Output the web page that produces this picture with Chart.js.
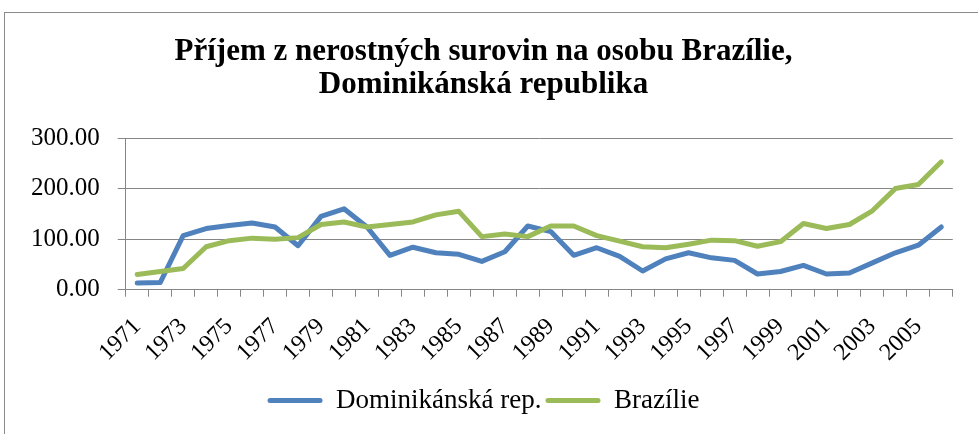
<!DOCTYPE html>
<html>
<head>
<meta charset="utf-8">
<script src="https://cdn.jsdelivr.net/npm/chart.js@4.4.1/dist/chart.umd.min.js"></script>
<style>
  html, body { margin: 0; padding: 0; background: #fff; }
  #wrap { position: relative; width: 978px; height: 434px; overflow: hidden; }
  #frame { position: absolute; left: 4px; top: 12px; width: 1000px; height: 500px; border: 1px solid #8a8a8a; }
  #chart { position: absolute; left: 0; top: 0; }
</style>
</head>
<body>
<div id="wrap">
  <div id="frame"></div>
  <canvas id="chart" width="978" height="434"></canvas>
</div>
<script>
const years = ['1971', '1972', '1973', '1974', '1975', '1976', '1977', '1978', '1979', '1980',
  '1981', '1982', '1983', '1984', '1985', '1986', '1987', '1988', '1989', '1990',
  '1991', '1992', '1993', '1994', '1995', '1996', '1997', '1998', '1999', '2000',
  '2001', '2002', '2003', '2004', '2005', '2006'];

const dominikanskaRep = [13, 14, 107, 121, 127, 132, 124, 87, 145, 160,
  124, 68, 84, 73, 70, 56, 75, 126, 115, 68,
  83, 66, 37, 61, 73, 63, 58, 31, 36, 48,
  31, 33, 53, 73, 88, 124];

const brazilie = [30, 36, 42, 85, 97, 102, 100, 103, 129, 134,
  124, 129, 134, 148, 155, 105, 110, 105, 126, 126,
  107, 96, 85, 83, 90, 98, 97, 86, 95, 131,
  121, 129, 156, 200, 208, 253];

const yTicks = [0, 100, 200, 300];

const serif = '"Liberation Serif", "Times New Roman", serif';
const gridGray = '#868686';

new Chart(document.getElementById('chart'), {
  type: 'line',
  data: {
    labels: years,
    datasets: [
      {
        label: 'Dominikánská rep.',
        data: dominikanskaRep,
        borderColor: '#4F81BD',
        backgroundColor: '#4F81BD',
        order: 1
      },
      {
        label: 'Brazílie',
        data: brazilie,
        borderColor: '#9BBB59',
        backgroundColor: '#9BBB59',
        order: 0
      }
    ]
  },
  options: {
    responsive: false,
    animation: false,
    layout: { padding: { left: 13, right: 24, top: 0, bottom: 10 } },
    elements: {
      line: { borderWidth: 5, tension: 0, borderCapStyle: 'round', borderJoinStyle: 'round' },
      point: { radius: 0 }
    },
    scales: {
      x: {
        offset: true,
        grid: { offset: true, drawOnChartArea: false, drawTicks: true, tickLength: 7, color: gridGray },
        border: { color: gridGray, width: 1 },
        ticks: {
          autoSkip: false,
          maxRotation: 45,
          minRotation: 45,
          padding: 16,
          color: '#000',
          font: { family: serif, size: 24 },
          callback: function (v, i) { return i % 2 === 0 ? this.getLabelForValue(v) : ''; }
        }
      },
      y: {
        min: 0,
        max: 300,
        afterBuildTicks: function (axis) { axis.ticks = yTicks.map(v => ({ value: v })); },
        grid: { color: gridGray, tickLength: 8, lineWidth: 1 },
        border: { color: gridGray, width: 1 },
        ticks: {
          padding: 18,
          color: '#000',
          font: { family: serif, size: 25 },
          callback: v => v.toFixed(2)
        }
      }
    },
    plugins: {
      title: {
        display: true,
        text: ['Příjem z nerostných surovin na osobu Brazílie,', 'Dominikánská republika'],
        color: '#000',
        font: { family: serif, size: 31, weight: 'bold', lineHeight: 1.065 },
        padding: { top: 35, bottom: 37 }
      },
      legend: {
        position: 'bottom',
        labels: {
          color: '#000',
          font: { family: serif, size: 27 },
          boxWidth: 55,
          boxHeight: 5,
          useBorderRadius: true,
          borderRadius: 2.5,
          padding: 4,
          sort: (a, b) => a.datasetIndex - b.datasetIndex,
          generateLabels: function (chart) {
            return Chart.defaults.plugins.legend.labels.generateLabels(chart).map(item => {
              item.lineWidth = 0;
              item.fillStyle = item.strokeStyle;
              return item;
            });
          }
        }
      },
      tooltip: { enabled: false }
    }
  }
});
</script>
</body>
</html>
